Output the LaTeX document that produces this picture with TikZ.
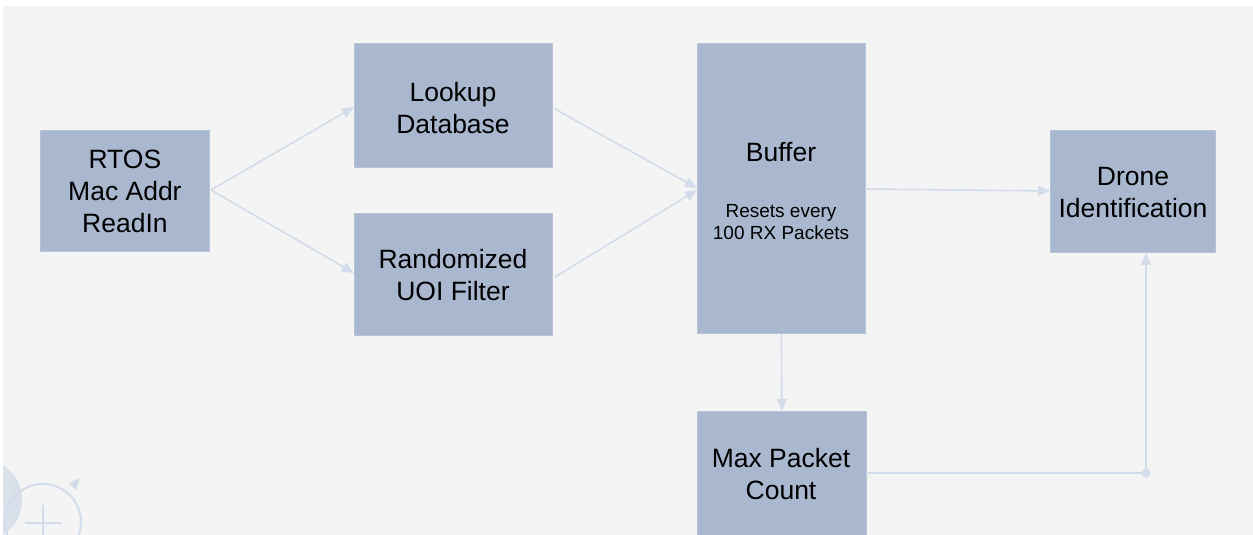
\documentclass[tikz,border=0pt]{standalone}
\usepackage{fontspec}
\setmainfont{Liberation Sans}
\usetikzlibrary{arrows.meta}
\definecolor{boxfill}{HTML}{A9B8CF}
\definecolor{boxedge}{HTML}{B6C3D8}
\definecolor{wire}{HTML}{D3DCEA}
\definecolor{canvas}{HTML}{F4F4F4}
\tikzset{
  block/.style={draw=boxedge, line width=0.8pt, fill=boxfill, inner sep=0pt, anchor=north west},
  blocktext/.style={font=\fontsize{26.5}{32}\selectfont, align=center, text=black},
  smalltext/.style={font=\fontsize{19}{22.5}\selectfont, align=center, text=black},
  wireline/.style={draw=wire, line width=1.6pt},
  flow/.style={wireline, -{Triangle[length=12pt, width=10pt]}},
}
\begin{document}
\begin{tikzpicture}[x=1pt, y=-1pt]
\useasboundingbox (0,0) rectangle (1253,535);
\fill[white] (0,0) rectangle (1253,535);
\fill[canvas] (3,6) rectangle (1253,535);

% faint canvas control in the lower left corner
\begin{scope}
  \clip (3,6) rectangle (1253,535);
  \shade[left color=white!60!wire, right color=wire!80!boxfill, opacity=0.7] (-20,500) circle (42);
  \draw[wire, line width=2pt] (43,522) circle (38);
  \draw[wire, line width=2pt] (43,505) -- (43,540) (25,523) -- (62,523);
  \fill[wire] (69,483) -- (80,478) -- (76,490) -- cycle;
\end{scope}

% blocks
\node[block, minimum width=169pt, minimum height=121pt] (rtos) at (40,130) {};
\node[block, minimum width=198pt, minimum height=124pt] (lookup) at (354,43) {};
\node[block, minimum width=198pt, minimum height=122pt] (uoi) at (354,213) {};
\node[block, minimum width=168pt, minimum height=290pt] (buffer) at (697,43) {};
\node[block, minimum width=165pt, minimum height=122pt] (drone) at (1050,130) {};
\node[block, minimum width=169pt, minimum height=130pt] (maxpc) at (697,411) {};

% block captions
\node[blocktext] (rtosT) at (rtos.center) {RTOS\\Mac Addr\\ReadIn};
\node[blocktext] (lookupT) at (453,108) {Lookup\\Database};
\node[blocktext] (uoiT) at (453,275) {Randomized\\UOI Filter};
\node[blocktext] (bufferT) at (781,152) {Buffer};
\node[smalltext] (bufferN) at (781,222) {Resets every\\100 RX Packets};
\node[blocktext] (droneT) at (1133,193) {Drone\\Identification};
\node[blocktext] (maxpcT) at (781,474) {Max Packet\\Count};

% connectors
\coordinate (split) at (211,190);
\coordinate (merge) at (1146,473);
\draw[flow] (split) -- (354,107);
\draw[flow] (split) -- (354,273);
\draw[flow] (555,109) -- (697,188);
\draw[flow] (555,277) -- (697,190);
\draw[flow] (865,189) -- (1050,191);
\draw[flow] (buffer.south) -- (maxpc.north);
\draw[wireline] (866,473) -- (merge);
\fill[wire] (merge) circle (4.5pt);
\draw[flow] (merge) -- (drone.south -| merge);
\end{tikzpicture}
\end{document}
